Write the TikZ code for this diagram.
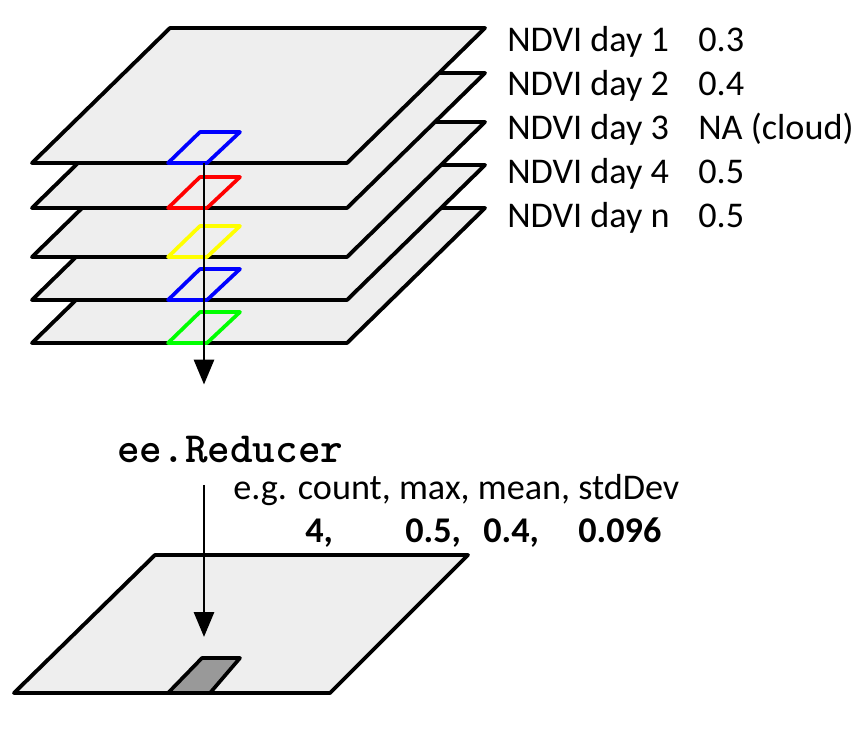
\documentclass[tikz,border=0pt]{standalone}
\usepackage{fontspec}
\setmainfont{Carlito}
\usetikzlibrary{arrows.meta}
\definecolor{layergray}{HTML}{EEEEEE}
\definecolor{cellgray}{HTML}{999999}
\definecolor{pixgreen}{HTML}{00FF00}
\definecolor{pixyellow}{HTML}{FFFF00}
\begin{document}
\begin{tikzpicture}[x=0.02cm, y=-0.02cm,
        arrow/.style = {line width=1.7pt,-{Triangle[length=0.5cm,width=0.4cm]}},
        layer/.style = {line width=2.2pt, line join=round, fill=layergray},
        cell/.style = {line width=2.1pt, line join=round},
        lbl/.style = {anchor=base west, inner sep=0pt, font=\fontsize{20.6}{24}\selectfont},
        val/.style = {lbl, font=\bfseries\fontsize{20.6}{24}\selectfont}]
    \useasboundingbox (0,0) rectangle (860,740);

    % stack of daily images, bottom one first
    \foreach \yb/\col in {343/pixgreen, 300/blue, 257/pixyellow, 208/red, 163/blue} {
        \draw[layer] (32,\yb) -- (347,\yb) -- (485,\yb-135) -- (170,\yb-135) -- cycle;
        \draw[cell, draw=\col] (168,\yb) -- (207,\yb) -- (240,\yb-31) -- (200,\yb-31) -- cycle;
    }
    \coordinate (pix) at (204,163);

    % output image
    \draw[layer] (14,693) -- (330,693) -- (468,555) -- (155,555) -- cycle;
    \draw[cell, fill=cellgray] (168,693) -- (210,693) -- (240,658) -- (202,658) -- cycle;
    \coordinate (out) at (204,637);

    \node (d1) [lbl] at (507,52) {NDVI day 1};
    \node (d2) [lbl] at (507,96) {NDVI day 2};
    \node (d3) [lbl] at (507,140) {NDVI day 3};
    \node (d4) [lbl] at (507,184) {NDVI day 4};
    \node (dn) [lbl] at (507,228) {NDVI day n};
    \node (v1) [lbl] at (698,52) {0.3};
    \node (v2) [lbl] at (698,96) {0.4};
    \node (v3) [lbl] at (698,140) {NA (cloud)};
    \node (v4) [lbl] at (698,184) {0.5};
    \node (vn) [lbl] at (698,228) {0.5};

    \node (reducer) [lbl, font=\ttfamily\bfseries\fontsize{24.5}{28}\selectfont] at (117,462) {ee.Reducer};
    \node (stats) [lbl] at (233,500) {e.g. count, max, mean, stdDev};
    \node (count) [val] at (305,542) {4,};
    \node (max) [val] at (405,542) {0.5,};
    \node (mean) [val] at (483,542) {0.4,};
    \node (sd) [val] at (578,542) {0.096};

    \draw[arrow, shorten >=17\pgflinewidth] (pix) -- (pix |- reducer.north);
    \draw[arrow] (pix |- reducer.south) ++(0,22) -- (out);
\end{tikzpicture}
\end{document}
